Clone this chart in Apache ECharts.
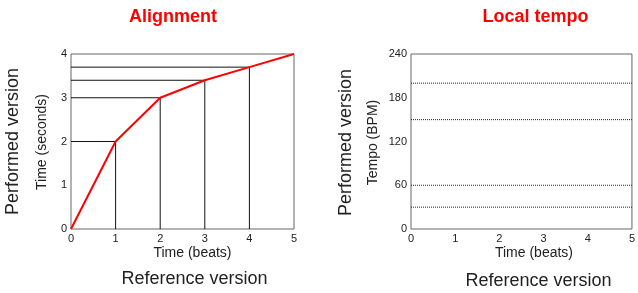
<!DOCTYPE html>
<html>
<head>
<meta charset="utf-8">
<script src="https://cdn.jsdelivr.net/npm/echarts@6/dist/echarts.min.js"></script>
<style>
  html, body { margin: 0; padding: 0; background: #fff; }
  #chart { width: 638px; height: 293px; }
</style>
</head>
<body>
<div id="chart"></div>
<script>
// reference beats vs performed seconds
var beats = [0, 1, 2, 3, 4, 5];
var seconds = [0, 2, 3, 3.4, 3.7, 4];
// local tempo levels (BPM)
var tempoLevels = [200, 150, 60, 30];

var font = 'Liberation Sans, Arial, sans-serif';
var chart = echarts.init(document.getElementById('chart'));

var alignPts = beats.map(function (b, i) { return [b, seconds[i]]; });

// guide lines from each inner point to both axes
var guides = [];
for (var i = 1; i < beats.length - 1; i++) {
  guides.push({
    type: 'line',
    xAxisIndex: 0,
    yAxisIndex: 0,
    symbol: 'none',
    silent: true,
    lineStyle: { color: '#111', width: 1 },
    data: [[0, seconds[i]], [beats[i], seconds[i]], [beats[i], 0]],
    z: 2
  });
}

var tempoSeries = tempoLevels.map(function (t) {
  return {
    type: 'line',
    xAxisIndex: 1,
    yAxisIndex: 1,
    symbol: 'none',
    silent: true,
    lineStyle: { color: '#222', width: 1, type: [1, 1] },
    data: [[0, t], [5, t]]
  };
});

function xAx(idx) {
  return {
    gridIndex: idx,
    type: 'value',
    min: 0,
    max: 5,
    interval: 1,
    axisLine: { show: false },
    axisTick: { show: false },
    splitLine: { show: false },
    axisLabel: { fontFamily: font, fontSize: 11, color: '#222', margin: 4 }
  };
}

function yAx(idx, max, interval) {
  return {
    gridIndex: idx,
    type: 'value',
    min: 0,
    max: max,
    interval: interval,
    axisLine: { show: false },
    axisTick: { show: false },
    splitLine: { show: false },
    axisLabel: { fontFamily: font, fontSize: 11, color: '#222', margin: 4 }
  };
}

function label(text, x, y, size, rot, opts) {
  opts = opts || {};
  return {
    type: 'text',
    x: x,
    y: y,
    rotation: rot ? Math.PI / 2 : 0,
    style: {
      text: text,
      font: (opts.bold ? 'bold ' : '') + size + 'px ' + font,
      fill: opts.color || '#222',
      align: 'center',
      verticalAlign: 'middle'
    }
  };
}

chart.setOption({
  animation: false,
  backgroundColor: '#fff',
  grid: [
    { left: 71, top: 54, width: 223, height: 175, show: true, borderColor: '#666', borderWidth: 1 },
    { left: 411, top: 54, width: 224, height: 175, show: true, borderColor: '#666', borderWidth: 1 }
  ],
  xAxis: [xAx(0), xAx(1)],
  yAxis: [yAx(0, 4, 1), yAx(1, 240, 60)],
  graphic: [
    label('Alignment', 173, 17, 18, false, { bold: true, color: '#f00' }),
    label('Local tempo', 535.5, 17.5, 18, false, { bold: true, color: '#f00' }),
    label('Time (beats)', 192.5, 253, 14),
    label('Time (beats)', 534, 253, 14),
    label('Reference version', 194.5, 279, 18),
    label('Reference version', 538.5, 281.5, 18),
    label('Performed version', 13.5, 141.5, 18, true),
    label('Time (seconds)', 42, 142, 14, true),
    label('Performed version', 346.5, 142.5, 18, true),
    label('Tempo (BPM)', 373, 142.5, 14, true)
  ],
  series: guides.concat([
    {
      type: 'line',
      xAxisIndex: 0,
      yAxisIndex: 0,
      symbol: 'none',
      lineStyle: { color: '#f00', width: 2 },
      data: alignPts,
      z: 5
    }
  ]).concat(tempoSeries)
});
</script>
</body>
</html>
